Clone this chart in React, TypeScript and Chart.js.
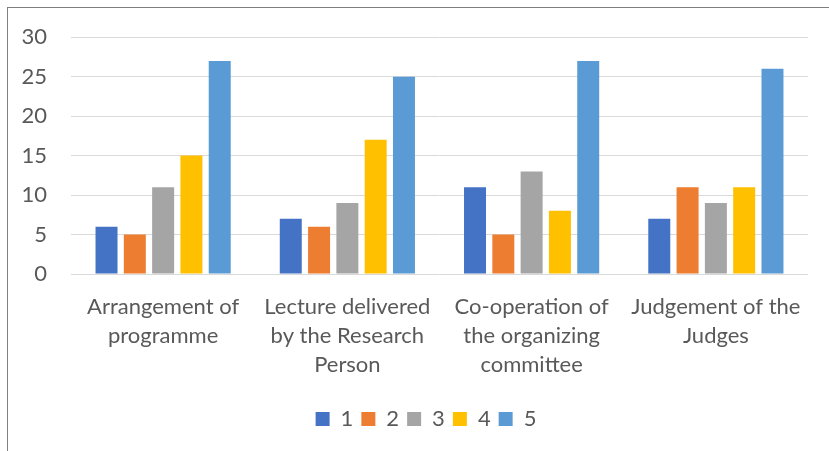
import React, { useEffect, useRef } from "react";
import { Chart, registerables } from "chart.js";

Chart.register(...registerables);

const categories: string[][] = [
  ["Arrangement of", "programme"],
  ["Lecture delivered", "by the Research", "Person"],
  ["Co-operation of", "the organizing", "committee"],
  ["Judgement of the", "Judges"],
];
const seriesNames = ["1", "2", "3", "4", "5"];
const series1 = [6, 7, 11, 7];
const series2 = [5, 6, 5, 11];
const series3 = [11, 9, 13, 9];
const series4 = [15, 17, 8, 11];
const series5 = [27, 25, 27, 26];
const seriesColors = ["#4472C4", "#ED7D31", "#A5A5A5", "#FFC000", "#5B9BD5"];
const yTicks = [0, 5, 10, 15, 20, 25, 30];

const FONT = "Lato, sans-serif";
const TEXT = "#595959";

const shiftLegend = {
  id: "shiftLegend",
  afterLayout(chart: any) {
    const l = chart.legend;
    if (l) {
      l.left += 22;
      l.right += 22;
    }
  },
};

export default function App() {
  const ref = useRef<HTMLCanvasElement | null>(null);
  useEffect(() => {
    document.body.style.margin = "0";
    const values = [series1, series2, series3, series4, series5];
    const chart = new Chart(ref.current!, {
      type: "bar",
      data: {
        labels: categories,
        datasets: values.map((v, i) => ({
          label: seriesNames[i],
          data: v,
          backgroundColor: seriesColors[i],
          borderWidth: 0,
          categoryPercentage: 0.768,
          barPercentage: 0.777,
        })),
      },
      plugins: [shiftLegend],
      options: {
        animation: false,
        responsive: false,
        maintainAspectRatio: false,
        layout: { padding: { left: 0, right: 21, top: 36, bottom: 11 } },
        plugins: {
          tooltip: { enabled: false },
          legend: {
            position: "bottom",
            labels: {
              boxWidth: 14,
              boxHeight: 14,
              padding: 8,
              color: TEXT,
              font: { family: FONT, size: 22 },
            },
          },
        },
        scales: {
          x: {
            grid: { display: false, drawTicks: false },
            border: { display: false },
            ticks: {
              color: TEXT,
              font: { family: FONT, size: 22, lineHeight: 1.3 },
              padding: 19,
              maxRotation: 0,
              autoSkip: false,
            },
            afterFit: (s: any) => {
              s.height = 126;
            },
          },
          y: {
            min: 0,
            max: 30,
            afterBuildTicks: (s: any) => {
              s.ticks = yTicks.map((v) => ({ value: v }));
            },
            grid: { color: "#D9D9D9", lineWidth: 1, drawTicks: false },
            border: { display: false },
            ticks: {
              color: TEXT,
              font: { family: FONT, size: 22 },
              padding: 24,
            },
            afterFit: (s: any) => {
              s.width = 71;
            },
          },
        },
      },
    });
    return () => chart.destroy();
  }, []);
  return (
    <div style={{ position: "relative", width: 829, height: 451, overflow: "hidden", background: "#fff" }}>
      <canvas ref={ref} width={829} height={451} style={{ position: "absolute", left: 0, top: 0 }} />
      <div
        style={{
          position: "absolute",
          left: 7,
          top: 7,
          width: 900,
          height: 500,
          borderLeft: "1px solid #7F7F7F",
          borderTop: "1px solid #7F7F7F",
          pointerEvents: "none",
        }}
      />
    </div>
  );
}
